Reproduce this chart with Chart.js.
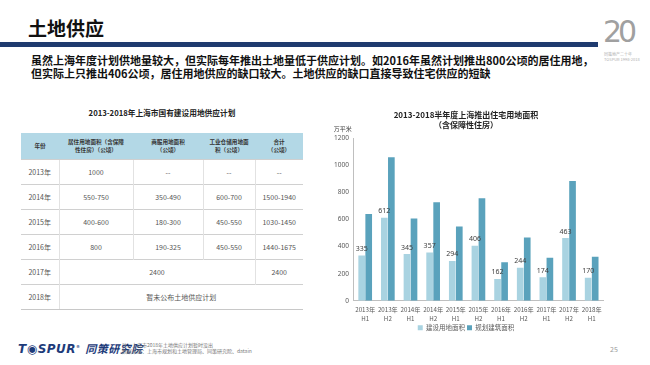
<!DOCTYPE html>
<html>
<head>
<meta charset="utf-8">
<script src="https://cdn.jsdelivr.net/npm/chart.js@4.4.1/dist/chart.umd.min.js"></script>
<style>
  html, body { margin: 0; padding: 0; }
  body { width: 650px; height: 365px; position: relative; background: #fff; overflow: hidden;
         font-family: "Noto Sans CJK SC", "Noto Sans", sans-serif; }
  .abs { position: absolute; }
  #pageTitle { left: 28px; top: 14px; font-size: 19px; font-weight: bold; color: #111; }
  #bar { left: 0; top: 42px; width: 598px; height: 5px; background: #1f3b6f; }
  #intro { left: 31px; top: 54px; font-size: 11px; line-height: 13px; font-weight: bold; color: #111; white-space: nowrap; }
  #logo20 { left: 603px; top: 14px; font-size: 30px; color: #a0a0a0; font-family: "DejaVu Sans", sans-serif; letter-spacing: -4px; }
  #logoSub { left: 604px; top: 52px; font-size: 4px; color: #b0b0b0; line-height: 5px; white-space: nowrap; }
  #tblTitle { left: 21px; width: 282px; top: 107px; text-align: center; font-size: 7.7px; font-weight: bold; color: #222; }
  table { position: absolute; left: 21px; top: 133px; width: 282px; border-collapse: collapse; table-layout: fixed; }
  th { background: #b3d8e6; color: #333; font-size: 5.6px; font-weight: bold; height: 26px; padding: 0 2px; line-height: 8px; }
  td { font-size: 7px; color: #555; height: 24px; text-align: center; padding: 0;
       border-top: 1px solid #d0d0d0; border-left: 1px solid #e2e2e2; }
  td:first-child { border-left: none; }
  tr:last-child td { border-bottom: 1px solid #c8c8c8; }
  #chartBox { left: 325px; top: 99px; width: 294px; height: 242px; }
  #tospur { left: 18px; top: 340px; font-size: 12px; font-weight: bold; font-style: italic; color: #1d3b7a; font-family: "DejaVu Sans", sans-serif; white-space: nowrap; letter-spacing: 0.5px; }
  #tospur span { font-family: "Noto Sans CJK SC", sans-serif; font-size: 11px; }
  #note { left: 122px; top: 342px; font-size: 5px; line-height: 6px; color: #777; white-space: nowrap; }
  #pageNo { left: 610px; top: 344px; font-size: 7px; color: #999; }
</style>
</head>
<body>
<div id="pageTitle" class="abs">土地供应</div>
<div id="bar" class="abs"></div>
<div id="logo20" class="abs">20</div>
<div id="logoSub" class="abs">同策地产二十年<br>TOSPUR 1998-2018</div>
<div id="intro" class="abs">虽然上海年度计划供地量较大，但实际每年推出土地量低于供应计划。如2016年虽然计划推出800公顷的居住用地，<br>但实际上只推出406公顷，居住用地供应的缺口较大。土地供应的缺口直接导致住宅供应的短缺</div>

<div id="tblTitle" class="abs">2013-2018年上海市国有建设用地供应计划</div>
<table>
  <colgroup><col style="width:38px"><col style="width:74px"><col style="width:70px"><col style="width:52px"><col style="width:48px"></colgroup>
  <tr><th>年份</th><th>居住用地面积（含保障<br>性住房）（公顷）</th><th>商服用地面积<br>（公顷）</th><th>工业仓储用地面<br>积（公顷）</th><th>合计<br>（公顷）</th></tr>
  <tr><td>2013年</td><td>1000</td><td>--</td><td>--</td><td>--</td></tr>
  <tr><td>2014年</td><td>550-750</td><td>350-490</td><td>600-700</td><td>1500-1940</td></tr>
  <tr><td>2015年</td><td>400-600</td><td>180-300</td><td>450-550</td><td>1030-1450</td></tr>
  <tr><td>2016年</td><td>800</td><td>190-325</td><td>450-550</td><td>1440-1675</td></tr>
  <tr><td>2017年</td><td colspan="3">2400</td><td>2400</td></tr>
  <tr><td>2018年</td><td colspan="4">暂未公布土地供应计划</td></tr>
</table>

<div id="chartBox" class="abs"><canvas id="landChart"></canvas></div>

<div id="tospur" class="abs">T&#9673;SPUR<sup style="font-size:4px">®</sup> <span>同策研究院</span></div>
<div id="note" class="abs">注：上海市2018年土地供应计划暂时没出<br>数据来源：上海市规划和土地管理局、同策研究院、datain</div>
<div id="pageNo" class="abs">25</div>

<script>
// data
const periods = [
  ['2013年', 'H1'], ['2013年', 'H2'], ['2014年', 'H1'], ['2014年', 'H2'],
  ['2015年', 'H1'], ['2015年', 'H2'], ['2016年', 'H1'], ['2016年', 'H2'],
  ['2017年', 'H1'], ['2017年', 'H2'], ['2018年', 'H1']
];
const landArea = [335, 612, 345, 357, 294, 406, 162, 244, 174, 463, 170];      // 建设用地面积
const plannedArea = [640, 1058, 607, 726, 548, 756, 284, 467, 317, 883, 325];  // 规划建筑面积
const seriesNames = ['建设用地面积', '规划建筑面积'];
const yTicks = [0, 200, 400, 600, 800, 1000, 1200];

const labelPlugin = {
  id: 'labelPlugin',
  afterDatasetsDraw(chart) {
    const ctx = chart.ctx;
    const meta = chart.getDatasetMeta(0);
    ctx.save();
    ctx.font = '7px "Noto Sans", sans-serif';
    ctx.fillStyle = '#404040';
    ctx.textAlign = 'center';
    ctx.textBaseline = 'bottom';
    meta.data.forEach((bar, i) => {
      ctx.fillText(landArea[i], bar.x, bar.y - 3);
    });
    // unit above the y axis
    ctx.font = '6px "Noto Sans CJK SC", sans-serif';
    ctx.textBaseline = 'middle';
    ctx.fillText('万平米', chart.chartArea.left - 11, chart.chartArea.top - 9);
    ctx.restore();
  }
};

new Chart(document.getElementById('landChart'), {
  type: 'bar',
  data: {
    labels: periods,
    datasets: [
      { label: seriesNames[0], data: landArea, backgroundColor: '#a9d3e1',
        categoryPercentage: 0.62, barPercentage: 0.95 },
      { label: seriesNames[1], data: plannedArea, backgroundColor: '#5aa2bc',
        categoryPercentage: 0.62, barPercentage: 0.95 }
    ]
  },
  options: {
    responsive: true,
    maintainAspectRatio: false,
    animation: false,
    layout: { padding: { left: 4, right: 16, top: 0, bottom: 0 } },
    plugins: {
      title: {
        display: true,
        text: ['2013-2018半年度上海推出住宅用地面积', '（含保障性住房）'],
        color: '#222',
        font: { size: 8, weight: 'bold', family: '"Noto Sans CJK SC", sans-serif', lineHeight: 1.25 },
        padding: { top: 11, bottom: 8 }
      },
      legend: {
        position: 'bottom',
        labels: {
          boxWidth: 5, boxHeight: 5, padding: 2,
          color: '#595959',
          font: { size: 6.5, family: '"Noto Sans CJK SC", sans-serif' }
        }
      },
      tooltip: { enabled: false }
    },
    scales: {
      x: {
        grid: { display: false, drawTicks: false },
        border: { display: true, color: '#bfbfbf' },
        ticks: { color: '#595959', font: { size: 6.2, family: '"Noto Sans CJK SC", sans-serif', lineHeight: 1.5 },
                 maxRotation: 0, autoSkip: false, padding: 4 },
        afterFit: (scale) => { scale.height -= 5; }
      },
      y: {
        min: 0, max: 1200,
        afterBuildTicks: (axis) => { axis.ticks = yTicks.map(v => ({ value: v })); },
        grid: { color: 'rgba(0,0,0,0)', drawTicks: false },
        border: { display: true, color: '#bfbfbf' },
        ticks: { color: '#595959', font: { size: 6.5, family: '"Noto Sans", sans-serif' }, padding: 5,
                 callback: (v) => String(v) }
      }
    }
  },
  plugins: [labelPlugin]
});
</script>
</body>
</html>
